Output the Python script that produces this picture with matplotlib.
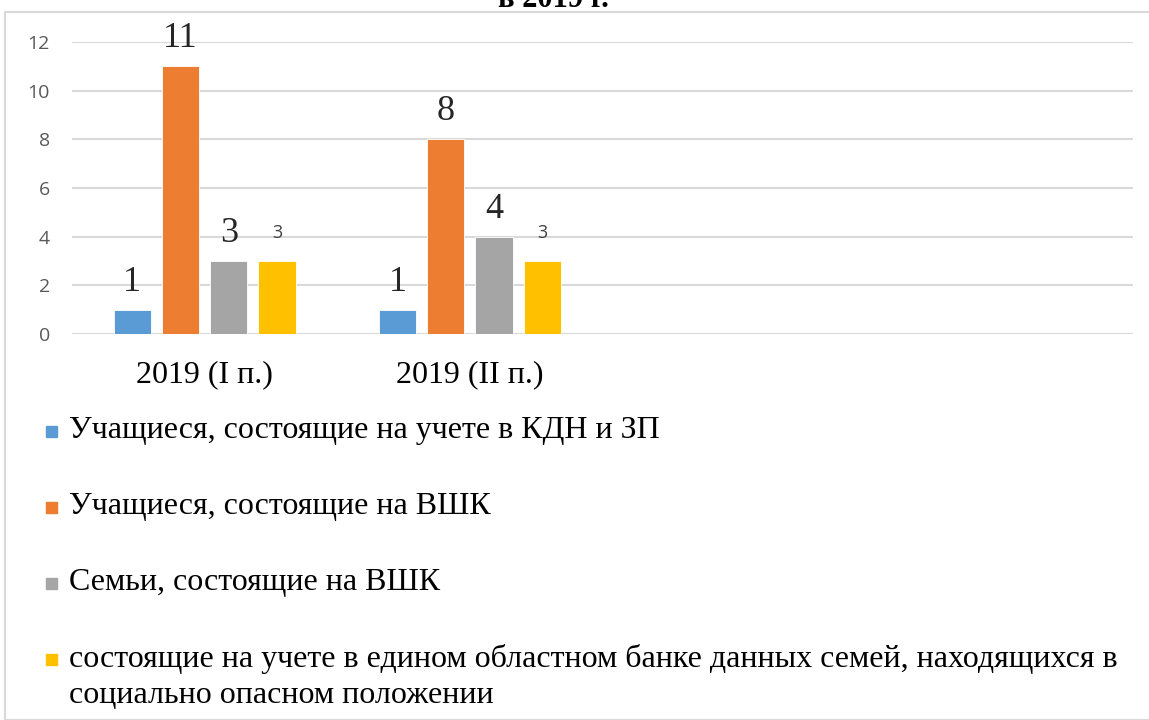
import matplotlib
matplotlib.use('Agg')
import matplotlib.pyplot as plt
from matplotlib.patches import Rectangle
import numpy as np

categories = ['2019 (I п.)', '2019 (II п.)', '', '']
series_names = [
    'Учащиеся, состоящие на учете в КДН и ЗП',
    'Учащиеся, состоящие на ВШК',
    'Семьи, состоящие на ВШК',
    'состоящие на учете в едином областном банке данных семей, находящихся в\nсоциально опасном положении',
]
values = [
    [1, 1],
    [11, 8],
    [3, 4],
    [3, 3],
]
colours = ['#5B9BD5', '#ED7D31', '#A5A5A5', '#FFC000']
yticks = [0, 2, 4, 6, 8, 10, 12]

serif = ['Liberation Serif', 'DejaVu Serif']
sans = ['Open Sans', 'DejaVu Sans']

fig = plt.figure(figsize=(11.49, 7.2), dpi=100)
W, H = 1149, 720

# chart frame
fig.patches.append(Rectangle((5 / W, 0), 1.0, 1 - 12 / H, transform=fig.transFigure,
                             fill=False, edgecolor='#d9d9d9', linewidth=1.5))
fig.text(553 / W, 1 - 7 / H, 'в 2019 г.', ha='center', va='baseline',
         fontsize=22, fontweight='bold', family=serif)

ax = fig.add_axes([72 / W, 1 - 334 / H, (1133 - 72) / W, (334 - 42) / H])
x = np.arange(len(categories))
width = 0.14
pitch = 0.182
for i, (vals, col) in enumerate(zip(values, colours)):
    xs = x[:len(vals)] + (i - 1.5) * pitch
    bars = ax.bar(xs, vals, width, color=col, edgecolor='white', linewidth=0.6, zorder=3)
    for b, v in zip(bars, vals):
        if i < 3:
            ax.annotate(str(v), (b.get_x() + b.get_width() / 2, v), xytext=(0, 8),
                        textcoords='offset points', ha='center', va='bottom',
                        fontsize=26, family=serif, color='#262626')
        else:
            ax.annotate(str(v), (b.get_x() + b.get_width() / 2, v), xytext=(0, 14),
                        textcoords='offset points', ha='center', va='bottom',
                        fontsize=13, family=sans, color='#404040')

ax.set_xlim(-0.5, 3.5)
ax.set_ylim(0, 12)
ax.set_yticks(yticks)
ax.set_xticks(x)
ax.set_xticklabels(categories, fontsize=23, family=serif, color='black')
for lab in ax.get_yticklabels():
    lab.set_fontsize(14)
    lab.set_family(sans)
    lab.set_color('#595959')
ax.tick_params(axis='y', length=0, pad=16)
ax.tick_params(axis='x', length=0, pad=19)
ax.grid(axis='y', color='#d9d9d9', linewidth=1.5, zorder=0)
for s in ax.spines.values():
    s.set_visible(False)

# legend, one entry per row
legend_y = [432, 508, 584, 660]
for name, col, yy in zip(series_names, colours, legend_y):
    fig.patches.append(Rectangle((46 / W, 1 - (yy + 5) / H), 11 / W, 11 / H,
                                 transform=fig.transFigure, color=col))
    fig.text(69 / W, 1 - (yy - 16) / H, name, ha='left', va='top', fontsize=23,
             family=serif, color='black', linespacing=1.3)

fig.savefig('out.png', dpi=100)
